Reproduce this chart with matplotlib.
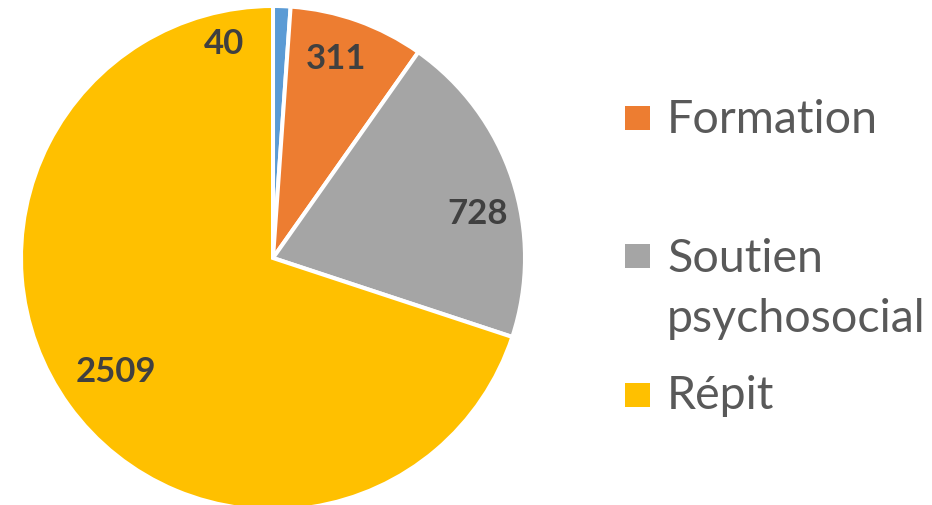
import numpy as np
import matplotlib
matplotlib.use('Agg')
import matplotlib.pyplot as plt
from matplotlib.patches import Rectangle

# data (first category's legend entry is cropped in the source)
categories = ['', 'Formation', 'Soutien\npsychosocial', 'Répit']
values = [40, 311, 728, 2509]
colors = ['#5B9BD5', '#ED7D31', '#A5A5A5', '#FFC000']

W, H = 932, 505
plt.rcParams['font.family'] = ['Lato', 'DejaVu Sans']

fig = plt.figure(figsize=(W/100, H/100), dpi=100)

# pie centre (273,258) px, radius about 252 px incl. white edge
cx, cy, R = 273, 258, 252
ax = fig.add_axes([(cx-R)/W, (H-cy-R)/H, 2*R/W, 2*R/H])
wedges, _ = ax.pie(values, colors=colors, startangle=90, counterclock=False,
                   radius=1, wedgeprops=dict(edgecolor='white', linewidth=2.9))
ax.set_xlim(-1, 1)
ax.set_ylim(-1, 1)
ax.set_aspect('equal')
ax.axis('off')

# value labels, placed near the outer end of each wedge (the tiny one sits beside its wedge)
dist = [0.87, 0.83, 0.83, 0.77]
shift = [15, 2, -6, 0]
for w, v, d, s in zip(wedges, values, dist, shift):
    ang = np.deg2rad((w.theta1 + w.theta2)/2 + s)
    ax.text(d*np.cos(ang), d*np.sin(ang), str(v), ha='center', va='center',
            fontsize=25, fontweight='bold', color='#404040')

# legend, drawn by hand to keep the Excel spacing
def px(x, y):
    return x/W, 1 - y/H

rows = [(1, 118, 133), (2, 256, 272), (3, 395, 409)]
for i, my, base in rows:
    x0, y0 = px(625, my + 12)
    fig.add_artist(Rectangle((x0, y0), 25/W, 24/H, transform=fig.transFigure,
                             facecolor=colors[i], edgecolor='none'))
    for k, line in enumerate(categories[i].split('\n')):
        tx, ty = px(667, base + 60*k)
        fig.text(tx, ty, line, ha='left', va='baseline', fontsize=33.5,
                 color='#595959')

fig.savefig('out.png', dpi=100)
